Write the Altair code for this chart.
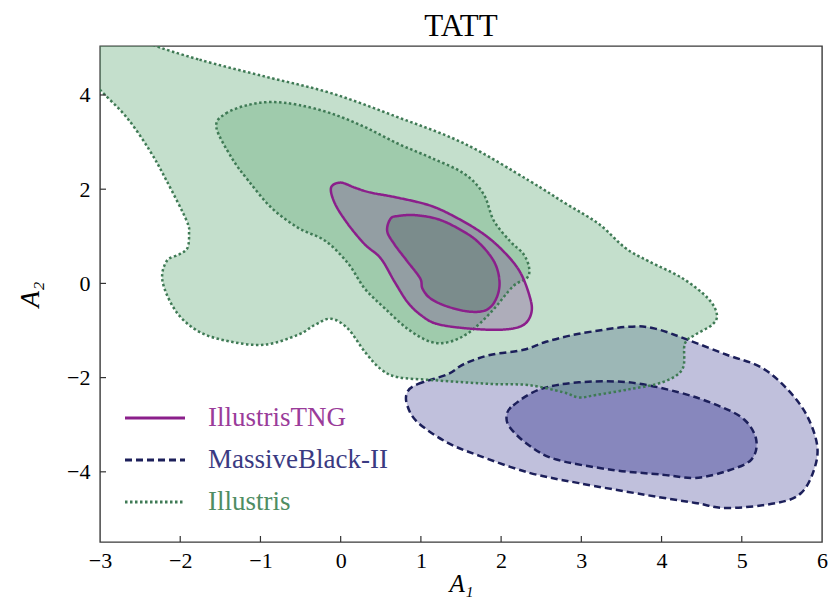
import altair as alt
import pandas as pd

# ---- axes ----
X_DOMAIN = [-3, 6]
Y_DOMAIN = [-5.49, 5.04]
x_ticks = [-3, -2, -1, 0, 1, 2, 3, 4, 5, 6]
y_ticks = [-4, -2, 0, 2, 4]
x_inner_ticks = [-2, -1, 0, 1, 2, 3, 4, 5]

series_names = ["IllustrisTNG", "MassiveBlack-II", "Illustris"]

# ---- contour outlines (A1, A2) ----
illustris_95_x = [-2.38, -1.76, -0.94, -0.12, 0.71, 1.54, 2.35, 2.81, 3.22, 3.55, 3.84, 4.26, 4.58, 4.69, 4.63,
                  4.42, 4.29, 4.26, 4.01, 3.59, 3.18, 2.97, 2.77, 2.35, 1.94, 1.54, 1.12, 0.71, 0.50, 0.30,
                  0.09, -0.12, -0.32, -0.53, -0.94, -1.36, -1.76, -2.05, -2.22, -2.17, -2.01, -1.91, -1.89,
                  -1.92, -2.17, -2.38, -2.67, -3.00, -3.25, -3.3, -2.7]
illustris_95_y = [5.09, 4.75, 4.39, 4.04, 3.53, 2.97, 2.18, 1.69, 1.26, 0.75, 0.47, 0.11, -0.32, -0.66, -0.88,
                  -1.09, -1.28, -1.82, -2.10, -2.25, -2.37, -2.42, -2.31, -2.16, -2.14, -2.10, -2.05, -1.99,
                  -1.82, -1.45, -0.96, -0.75, -0.88, -1.09, -1.30, -1.24, -1.03, -0.60, 0.04, 0.47, 0.62, 0.75,
                  1.05, 1.33, 2.18, 2.82, 3.53, 4.11, 4.6, 5.4, 5.4]

illustris_68_x = [-1.55, -1.43, -1.15, -0.86, -0.53, -0.12, 0.30, 0.71, 1.12, 1.54, 1.78, 1.91, 2.11, 2.28, 2.35,
                  2.32, 2.15, 1.88, 1.61, 1.36, 1.12, 0.83, 0.55, 0.30, 0.09, -0.19, -0.53, -0.86, -1.15, -1.36]
illustris_68_y = [3.32, 3.61, 3.79, 3.85, 3.79, 3.61, 3.32, 2.97, 2.67, 2.33, 1.90, 1.33, 0.90, 0.62, 0.32,
                  0.11, -0.06, -0.60, -1.03, -1.24, -1.24, -0.96, -0.53, -0.11, 0.43, 0.90, 1.18, 1.60, 2.18, 2.67]

tng_95_x = [-0.12, 0.00, 0.18, 0.37, 0.71, 1.12, 1.45, 1.78, 2.03, 2.23, 2.35, 2.38, 2.28, 2.03, 1.61, 1.20,
            0.99, 0.83, 0.67, 0.50, 0.30, 0.09, -0.07]
tng_95_y = [2.03, 2.14, 2.03, 1.93, 1.82, 1.65, 1.39, 1.05, 0.68, 0.26, -0.24, -0.60, -0.88, -0.98, -0.96, -0.86,
            -0.66, -0.39, 0.04, 0.53, 0.83, 1.26, 1.69]

tng_68_x = [0.58, 0.62, 0.71, 0.92, 1.20, 1.45, 1.70, 1.91, 1.98, 1.94, 1.82, 1.61, 1.33, 1.12, 1.02, 0.99, 0.83, 0.67]
tng_68_y = [1.11, 1.37, 1.43, 1.45, 1.37, 1.18, 0.90, 0.47, 0.04, -0.32, -0.56, -0.60, -0.49, -0.32, -0.11, 0.11,
            0.47, 0.83]

mb2_95_x = [0.83, 0.96, 1.33, 1.54, 1.86, 2.28, 2.56, 2.97, 3.59, 3.92, 4.33, 4.82, 5.24, 5.57, 5.81, 5.94, 5.90,
            5.74, 5.44, 4.82, 4.42, 3.80, 2.97, 2.35, 1.73, 1.33, 0.96, 0.83]
mb2_95_y = [-2.31, -2.14, -1.93, -1.71, -1.52, -1.41, -1.24, -1.07, -0.92, -0.96, -1.20, -1.52, -1.78, -2.25,
            -2.80, -3.44, -3.96, -4.45, -4.66, -4.77, -4.66, -4.49, -4.24, -4.02, -3.66, -3.38, -2.95, -2.59]

mb2_68_x = [2.07, 2.15, 2.48, 2.97, 3.59, 4.21, 4.70, 5.03, 5.18, 5.12, 4.82, 4.42, 4.01, 3.39, 2.69, 2.35, 2.11]
mb2_68_y = [-2.80, -2.59, -2.25, -2.10, -2.10, -2.31, -2.59, -2.89, -3.32, -3.74, -3.98, -4.13, -4.06, -3.96,
            -3.74, -3.44, -3.06]

# drawing order: (poly id, series, xs, ys, fill colour, fill opacity)
polys = [
    ("mb2_95", "MassiveBlack-II", mb2_95_x, mb2_95_y, "#3a3a92", 0.32),
    ("mb2_68", "MassiveBlack-II", mb2_68_x, mb2_68_y, "#3a3a92", 0.42),
    ("ill_95", "Illustris", illustris_95_x, illustris_95_y, "#61a976", 0.373),
    ("ill_68", "Illustris", illustris_68_x, illustris_68_y, "#61a976", 0.373),
    ("tng_95", "IllustrisTNG", tng_95_x, tng_95_y, "#782a8c", 0.28),
    ("tng_68", "IllustrisTNG", tng_68_x, tng_68_y, "#46645a", 0.30),
]

rows = []
for pid, ser, xs, ys, _c, _o in polys:
    for i, (xv, yv) in enumerate(zip(xs, ys)):
        rows.append({"poly": pid, "series": ser, "i": i, "x": xv, "y": yv})
df = pd.DataFrame(rows)

FONT = "Liberation Serif"
PLOT_W, PLOT_H = 722, 496

x_enc = alt.X("x:Q", scale=alt.Scale(domain=X_DOMAIN, nice=False, zero=False),
              axis=alt.Axis(values=x_ticks, title="A₁", format="d", labelFlush=False,
                            labelPadding=8, titlePadding=0, titleFontSize=25))
y_enc = alt.Y("y:Q", scale=alt.Scale(domain=Y_DOMAIN, nice=False, zero=False),
              axis=alt.Axis(values=y_ticks, title="A₂", format="d", labelPadding=10, titlePadding=22,
                            titleFontSize=27))

layers = []
for pid, ser, xs, ys, col, op in polys:
    layers.append(
        alt.Chart(df[df.poly == pid]).mark_line(
            interpolate="cardinal-closed", fill=col, fillOpacity=op, strokeOpacity=0, clip=True
        ).encode(x=x_enc, y=y_enc, order=alt.Order("i:Q"))
    )

label_expr = ("datum.label == 'IllustrisTNG' ? '#9a3c9a' : "
              "(datum.label == 'MassiveBlack-II' ? '#3a3a82' : '#4f8d63')")
legend = alt.Legend(
    orient="none", legendX=41.5, legendY=358.5, title=None,
    symbolType="M-3,0H3", symbolSize=400, symbolStrokeWidth=3,
    labelFont=FONT, labelFontSize=27, labelOffset=39.5, labelLimit=400, rowPadding=14, padding=0,
    labelColor=alt.ExprRef(expr=label_expr),
)

lines = alt.Chart(df).mark_line(interpolate="cardinal-closed", strokeWidth=2.5, clip=True).encode(
    x=x_enc, y=y_enc,
    detail="poly:N",
    order=alt.Order("i:Q"),
    stroke=alt.Stroke("series:N", scale=alt.Scale(domain=series_names,
                                                  range=["#8b1f8b", "#1c1f5a", "#3f7a55"]), legend=legend),
    strokeDash=alt.StrokeDash("series:N", scale=alt.Scale(domain=series_names,
                                                          range=[[1, 0], [7, 4], [2.5, 2.5]]), legend=legend),
)
layers.append(lines)

# inward ticks
xt = alt.Chart(pd.DataFrame({"x": x_inner_ticks})).mark_rule(color="#333", strokeWidth=1.2).encode(
    x=x_enc, y=alt.value(PLOT_H), y2=alt.value(PLOT_H - 6))
yt = alt.Chart(pd.DataFrame({"y": y_ticks})).mark_rule(color="#333", strokeWidth=1.2).encode(
    y=y_enc, x=alt.value(0), x2=alt.value(6))
layers += [xt, yt]

chart = alt.layer(*layers).properties(
    width=PLOT_W, height=PLOT_H,
    title=alt.TitleParams("TATT", font=FONT, fontSize=31, fontWeight="normal", color="black", offset=3),
    padding={"left": 92, "top": 38, "right": 6, "bottom": 56},
    autosize=alt.AutoSizeParams(type="none"),
).configure_view(stroke="#3a3a3a", strokeWidth=1.4).configure_axis(
    grid=False, domain=False, ticks=False,
    labelFont=FONT, labelFontSize=22, labelColor="black",
    titleFont=FONT, titleFontStyle="italic", titleFontWeight="normal", titleColor="black",
)

chart.save("out.html", embed_options={"renderer": "svg", "actions": False})
